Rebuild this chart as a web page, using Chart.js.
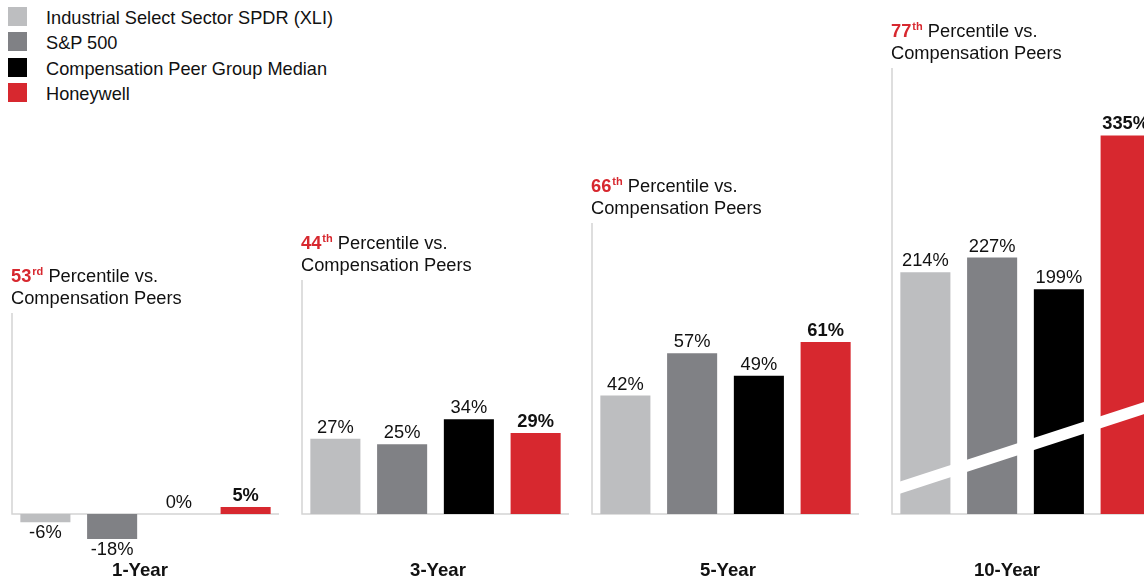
<!DOCTYPE html>
<html>
<head>
<meta charset="utf-8">
<script src="https://cdn.jsdelivr.net/npm/chart.js@4/dist/chart.umd.min.js"></script>
<style>
  html, body { margin: 0; padding: 0; background: #fff; overflow: hidden; width: 1144px; height: 579px; }
  body { position: relative; font-family: "Liberation Sans", Arial, sans-serif; }
  canvas { position: absolute; top: 0; }
  .legend-item { position: absolute; left: 8px; height: 19px; font-size: 18.2px; line-height: 19px; color: #111; white-space: nowrap; }
  .legend-item span.box { position: absolute; left: 0; top: 0; width: 19px; height: 19px; }
  .legend-item span.txt { position: absolute; left: 38px; top: 2px; }
</style>
</head>
<body>
<div id="legend"></div>
<script>
// Data
const periods = ["1-Year", "3-Year", "5-Year", "10-Year"];
const seriesNames = ["Industrial Select Sector SPDR (XLI)", "S&P 500", "Compensation Peer Group Median", "Honeywell"];
const seriesColours = ["#bdbec0", "#808185", "#000000", "#d7282f"];
const xliReturns = [-6, 27, 42, 214];
const sp500Returns = [-18, 25, 57, 227];
const peerMedianReturns = [0, 34, 49, 199];
const honeywellReturns = [5, 29, 61, 335];
const percentileRanks = [53, 44, 66, 77];
const rankSuffixes = ["rd", "th", "th", "th"];

// Layout (pixels)
const H = 579;
const baselineY = 514;
const panelLeft = [12, 302, 592, 892];
const pxPerPoint = [1.39, 2.79, 2.82, 1.13];
const axisTop = [313, 280, 223, 68];
const periodLabelX = [140, 438, 728, 1007];
const FONT = '"Liberation Sans", Arial, sans-serif';

// Legend
let legend = document.getElementById("legend");
seriesNames.forEach(function (name, i) {
  let item = document.createElement("div");
  item.className = "legend-item";
  item.style.top = (7 + i * 25.3) + "px";
  item.innerHTML = '<span class="box" style="background:' + seriesColours[i] + '"></span><span class="txt"></span>';
  item.querySelector(".txt").textContent = name;
  legend.appendChild(item);
});

const panelDecor = {
  id: "panelDecor",
  beforeDatasetsDraw(chart, args, opts) {
    let ctx = chart.ctx;
    let area = chart.chartArea;
    ctx.save();
    ctx.strokeStyle = "#d4d4d4";
    ctx.lineWidth = 1.5;
    ctx.beginPath();
    ctx.moveTo(area.left, axisTop[opts.index]);
    ctx.lineTo(area.left, baselineY);
    ctx.lineTo(area.right, baselineY);
    ctx.stroke();
    ctx.restore();
  },
  afterDatasetsDraw(chart, args, opts) {
    let i = opts.index;
    let ctx = chart.ctx;
    let area = chart.chartArea;
    ctx.save();

    // broken-axis slash on the 10-year panel
    if (i === 3) {
      ctx.strokeStyle = "#ffffff";
      ctx.lineWidth = 11.5;
      let x0 = area.left + 6, x1 = chart.width;
      let y0 = 488.3;
      ctx.beginPath();
      ctx.moveTo(x0, y0);
      ctx.lineTo(x1, y0 - 0.326 * (x1 - x0));
      ctx.stroke();
    }

    // value labels
    let meta = chart.getDatasetMeta(0);
    let values = chart.data.datasets[0].data;
    ctx.textAlign = "center";
    ctx.textBaseline = "middle";
    ctx.fillStyle = "#111";
    meta.data.forEach(function (bar, j) {
      let v = values[j];
      ctx.font = (j === 3 ? "bold " : "") + "18.3px " + FONT;
      let y = v < 0 ? bar.y + 11 : bar.y - 11;
      ctx.fillText(v + "%", bar.x, y);
    });

    // percentile annotation
    let x = area.left - 1;
    let y1 = axisTop[i] - 36;
    let y2 = axisTop[i] - 14;
    ctx.textAlign = "left";
    ctx.fillStyle = "#d7282f";
    ctx.font = "bold 18.3px " + FONT;
    let rank = String(percentileRanks[i]);
    ctx.fillText(rank, x, y1);
    x += ctx.measureText(rank).width + 1;
    ctx.font = "bold 11px " + FONT;
    ctx.fillText(rankSuffixes[i], x, y1 - 5);
    x += ctx.measureText(rankSuffixes[i]).width;
    ctx.fillStyle = "#111";
    ctx.font = "18.3px " + FONT;
    ctx.fillText(" Percentile vs.", x, y1);
    ctx.fillText("Compensation Peers", area.left - 1, y2);

    // period label
    ctx.textAlign = "center";
    ctx.font = "bold 18.6px " + FONT;
    let canvasLeft = panelLeft[i] - 10;
    ctx.fillText(periods[i], periodLabelX[i] - canvasLeft, 571);

    ctx.restore();
  }
};

periods.forEach(function (period, i) {
  let canvas = document.createElement("canvas");
  canvas.width = 287;
  canvas.height = H;
  canvas.style.left = (panelLeft[i] - 10) + "px";
  canvas.style.width = "287px";
  canvas.style.height = H + "px";
  document.body.appendChild(canvas);

  let px = pxPerPoint[i];
  new Chart(canvas.getContext("2d"), {
    type: "bar",
    data: {
      labels: seriesNames,
      datasets: [
        {
          data: [xliReturns[i], sp500Returns[i], peerMedianReturns[i], honeywellReturns[i]],
          backgroundColor: seriesColours,
          borderWidth: 0,
          barPercentage: 0.75,
          categoryPercentage: 1,
        },
      ],
    },
    options: {
      responsive: false,
      animation: false,
      devicePixelRatio: 1,
      layout: { padding: { left: 10, right: 10, top: 0, bottom: 0 } },
      plugins: {
        legend: { display: false },
        tooltip: { enabled: false },
        panelDecor: { index: i },
      },
      scales: {
        x: { display: false },
        y: {
          display: false,
          min: -(H - baselineY) / px,
          max: baselineY / px,
        },
      },
    },
    plugins: [panelDecor],
  });
});
</script>
</body>
</html>
